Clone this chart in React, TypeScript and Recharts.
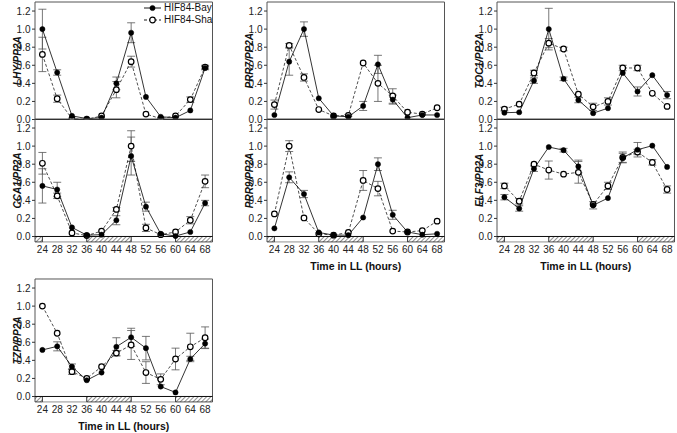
import React from "react";
import { LineChart, Line, XAxis, YAxis, ReferenceArea, ReferenceLine, ErrorBar, Legend } from "recharts";

const FONT = '"Liberation Sans", Arial, Helvetica, sans-serif';

const hours = [24, 28, 32, 36, 40, 44, 48, 52, 56, 60, 64, 68];
const yTicks = [0, 0.2, 0.4, 0.6, 0.8, 1.0, 1.2];
const seriesNames = ["HIF84-Bay", "HIF84-Sha"];
// light / dark bars under the x axis (hours)
const subjDay = [[24, 36], [48, 60]];
const subjNight = [[22, 24], [36, 48], [60, 70]];

const lhyBay = [1.0, 0.52, 0.04, 0.01, 0.02, 0.4, 0.96, 0.25, 0.03, 0.02, 0.1, 0.57];
const lhyBayErr = [0.22, 0.03, 0, 0, 0, 0.07, 0.11, 0, 0, 0, 0, 0.02];
const lhySha = [0.72, 0.23, 0.01, 0.0, 0.04, 0.33, 0.64, 0.06, 0.01, 0.04, 0.22, 0.58];
const lhyShaErr = [0.19, 0.04, 0, 0, 0, 0.09, 0.06, 0, 0, 0, 0.03, 0.02];

const cca1Bay = [0.56, 0.52, 0.1, 0.015, 0.02, 0.18, 0.89, 0.33, 0.03, 0.005, 0.05, 0.37];
const cca1BayErr = [0.19, 0.08, 0, 0, 0, 0.05, 0.21, 0.05, 0, 0, 0, 0.03];
const cca1Sha = [0.81, 0.45, 0.04, 0.01, 0.06, 0.3, 1.0, 0.095, 0.02, 0.05, 0.18, 0.61];
const cca1ShaErr = [0.12, 0.03, 0, 0, 0, 0.02, 0.17, 0.04, 0, 0, 0.04, 0.07];

const prr7Bay = [0.05, 0.64, 1.0, 0.235, 0.04, 0.03, 0.15, 0.61, 0.22, 0.02, 0.05, 0.05];
const prr7BayErr = [0, 0.15, 0.08, 0, 0, 0, 0.05, 0.1, 0.05, 0, 0, 0];
const prr7Sha = [0.165, 0.82, 0.465, 0.11, 0.04, 0.045, 0.625, 0.4, 0.26, 0.08, 0.06, 0.13];
const prr7ShaErr = [0.05, 0.02, 0.04, 0, 0, 0.01, 0, 0.2, 0.08, 0, 0, 0];

const prr9Bay = [0.09, 0.655, 0.47, 0.045, 0.015, 0.015, 0.21, 0.8, 0.24, 0.05, 0.02, 0.03];
const prr9BayErr = [0, 0.06, 0.04, 0, 0, 0, 0, 0.07, 0.05, 0, 0, 0];
const prr9Sha = [0.25, 1.0, 0.205, 0.03, 0.015, 0.045, 0.62, 0.53, 0.06, 0.05, 0.065, 0.17];
const prr9ShaErr = [0, 0.06, 0, 0, 0, 0, 0.11, 0.08, 0, 0, 0, 0];

const toc1Bay = [0.075, 0.08, 0.43, 1.0, 0.45, 0.215, 0.07, 0.125, 0.515, 0.31, 0.49, 0.27];
const toc1BayErr = [0, 0, 0.03, 0.23, 0.02, 0.03, 0, 0, 0, 0.05, 0, 0.04];
const toc1Sha = [0.115, 0.17, 0.515, 0.845, 0.78, 0.28, 0.14, 0.2, 0.57, 0.57, 0.29, 0.145];
const toc1ShaErr = [0.02, 0, 0.03, 0.05, 0.02, 0, 0.04, 0.04, 0.03, 0.03, 0, 0];

const elf3Bay = [0.435, 0.31, 0.75, 0.99, 0.955, 0.775, 0.345, 0.425, 0.87, 0.96, 1.005, 0.77];
const elf3BayErr = [0.03, 0.03, 0.03, 0, 0.02, 0.07, 0.04, 0, 0.05, 0.08, 0, 0];
const elf3Sha = [0.56, 0.39, 0.8, 0.735, 0.69, 0.71, 0.355, 0.56, 0.875, 0.935, 0.82, 0.52];
const elf3ShaErr = [0.03, 0.03, 0, 0.1, 0, 0.12, 0, 0.04, 0.06, 0.03, 0.03, 0.04];

const tzpBay = [0.515, 0.555, 0.33, 0.18, 0.265, 0.55, 0.655, 0.535, 0.11, 0.045, 0.415, 0.585];
const tzpBayErr = [0, 0.05, 0.03, 0, 0, 0.1, 0.1, 0.13, 0, 0, 0.03, 0.05];
const tzpSha = [1.0, 0.7, 0.275, 0.2, 0.33, 0.48, 0.57, 0.265, 0.19, 0.415, 0.55, 0.65];
const tzpShaErr = [0, 0, 0.03, 0, 0, 0.03, 0.16, 0.12, 0.06, 0.12, 0.15, 0.12];

// panel geometry (page px)
const BOX_LEFT = [35, 266.6, 497];
const BOX_TOP = [1.5, 119, 279];
const PLOT_W = 177.5;
const SPAN_H = 117.5; // value 0 .. 1.3
const BAR = 0.06; // light/dark bar depth in data units
const AXIS_W = 35;
const M_TOP = 3;
const M_RIGHT = 4;
const X_H = 30;

type PanelDef = {
  id: string;
  gene: string;
  col: number;
  row: number;
  bay: number[];
  bayErr: number[];
  sha: number[];
  shaErr: number[];
  labelX: number;
  labelY: number;
  title?: boolean;
  legend?: boolean;
};

function YLabel({ text, x, y }: { text: string; x: number; y: number }) {
  return (
    <text
      x={x}
      y={y}
      transform={`rotate(-90 ${x} ${y})`}
      textAnchor="middle"
      dominantBaseline="central"
      fontFamily={FONT}
      fontSize={10}
      fontWeight="bold"
      fontStyle="italic"
      fill="#111"
    >
      {text}
    </text>
  );
}

function LegendBox() {
  return (
    <div style={{ fontFamily: FONT, fontSize: 10, color: "#111", lineHeight: "12px" }}>
      {seriesNames.map((name, i) => (
        <div key={name} style={{ display: "flex", alignItems: "center", height: 12 }}>
          <svg width={19} height={10} style={{ marginRight: 2 }}>
            <line x1={1} y1={5} x2={18} y2={5} stroke="#000" strokeWidth={0.9} strokeDasharray={i ? "3 2" : undefined} />
            <circle cx={9.5} cy={5} r={i ? 2.8 : 2.6} fill={i ? "#fff" : "#000"} stroke="#000" strokeWidth={i ? 1.2 : 0.5} />
          </svg>
          <span>{name}</span>
        </div>
      ))}
    </div>
  );
}

function Panel(p: PanelDef) {
  const lower = p.row > 0;
  const plotH = lower ? (SPAN_H * (1.3 + BAR)) / 1.3 : SPAN_H;
  const mBottom = lower ? 3 : 7;
  const width = AXIS_W + PLOT_W + M_RIGHT;
  const height = M_TOP + plotH + (lower ? X_H : 0) + mBottom;
  const left = BOX_LEFT[p.col] - AXIS_W;
  const top = BOX_TOP[p.row] - M_TOP;
  const rows = hours.map((h, i) => ({ h, bay: p.bay[i], bayErr: p.bayErr[i], sha: p.sha[i], shaErr: p.shaErr[i] }));
  const tickStyle = { fontSize: 10, fill: "#222", fontFamily: FONT };
  return (
    <div style={{ position: "absolute", left, top }}>
      <LineChart width={width} height={height} data={rows} margin={{ top: M_TOP, right: M_RIGHT, left: 0, bottom: mBottom }}>
        <defs>
          <pattern id={`hatch-${p.id}`} width="3" height="3" patternUnits="userSpaceOnUse" patternTransform="rotate(45)">
            <rect width="3" height="3" fill="#fff" />
            <line x1="0" y1="0" x2="0" y2="3" stroke="#222" strokeWidth="1" />
          </pattern>
        </defs>
        <XAxis
          dataKey="h"
          type="number"
          domain={[22, 70]}
          allowDataOverflow
          ticks={hours}
          interval={0}
          hide={!lower}
          height={X_H}
          axisLine={false}
          tickLine={false}
          tickSize={0}
          tickMargin={4}
          tick={tickStyle}
          label={
            p.title
              ? { value: "Time in LL (hours)", position: "insideBottom", offset: 1.8, fontSize: 10.5, fontWeight: 700, fill: "#111", fontFamily: FONT }
              : undefined
          }
        />
        <YAxis
          type="number"
          domain={[lower ? -BAR : 0, 1.3]}
          allowDataOverflow
          ticks={yTicks}
          interval={0}
          width={AXIS_W}
          axisLine={false}
          tickSize={3}
          tickMargin={1.5}
          tickLine={{ stroke: "#333" }}
          tickFormatter={(v: number) => v.toFixed(1)}
          tick={tickStyle}
          label={<YLabel text={`${p.gene}/PP2A`} x={p.labelX - left} y={p.labelY - top} />}
        />
        <ReferenceArea x1={22} x2={70} y1={0} y2={1.3} fill="none" stroke="#555" strokeWidth={1} />
        {lower &&
          subjDay.map(([a, b]) => (
            <ReferenceArea key={`d${a}`} x1={a} x2={b} y1={-BAR} y2={0} fill="#fff" fillOpacity={1} stroke="#777" strokeWidth={0.8} />
          ))}
        {lower &&
          subjNight.map(([a, b]) => (
            <ReferenceArea
              key={`n${a}`}
              x1={a}
              x2={b}
              y1={-BAR}
              y2={0}
              fill={`url(#hatch-${p.id})`}
              fillOpacity={1}
              stroke="#222"
              strokeWidth={0.8}
            />
          ))}
        <ReferenceLine y={0} stroke="#111" strokeWidth={1} />
        <Line
          dataKey="sha"
          stroke="#222"
          strokeWidth={0.8}
          strokeDasharray="3 2"
          dot={{ r: 2.8, fill: "#fff", stroke: "#000", strokeWidth: 1.2, strokeDasharray: "" }}
          activeDot={false}
          isAnimationActive={false}
        >
          <ErrorBar dataKey="shaErr" width={4} stroke="#555" strokeWidth={0.8} />
        </Line>
        <Line
          dataKey="bay"
          stroke="#000"
          strokeWidth={0.8}
          dot={{ r: 2.6, fill: "#000", stroke: "#000", strokeWidth: 0.5 }}
          activeDot={false}
          isAnimationActive={false}
        >
          <ErrorBar dataKey="bayErr" width={4} stroke="#555" strokeWidth={0.8} />
        </Line>
        {p.legend && (
          <Legend
            layout="vertical"
            align="center"
            verticalAlign="middle"
            content={<LegendBox />}
            wrapperStyle={{ left: 143, top: 3, width: 75, height: 26 }}
          />
        )}
      </LineChart>
    </div>
  );
}

const panels: PanelDef[] = [
  { id: "lhy", gene: "LHY", col: 0, row: 0, bay: lhyBay, bayErr: lhyBayErr, sha: lhySha, shaErr: lhyShaErr, labelX: 16, labelY: 52, legend: true },
  { id: "prr7", gene: "PRR7", col: 1, row: 0, bay: prr7Bay, bayErr: prr7BayErr, sha: prr7Sha, shaErr: prr7ShaErr, labelX: 238, labelY: 58 },
  { id: "toc1", gene: "TOC1", col: 2, row: 0, bay: toc1Bay, bayErr: toc1BayErr, sha: toc1Sha, shaErr: toc1ShaErr, labelX: 470, labelY: 55 },
  { id: "cca1", gene: "CCA1", col: 0, row: 1, bay: cca1Bay, bayErr: cca1BayErr, sha: cca1Sha, shaErr: cca1ShaErr, labelX: 13, labelY: 179 },
  { id: "prr9", gene: "PRR9", col: 1, row: 1, bay: prr9Bay, bayErr: prr9BayErr, sha: prr9Sha, shaErr: prr9ShaErr, labelX: 238, labelY: 179, title: true },
  { id: "elf3", gene: "ELF3", col: 2, row: 1, bay: elf3Bay, bayErr: elf3BayErr, sha: elf3Sha, shaErr: elf3ShaErr, labelX: 470, labelY: 179, title: true },
  { id: "tzp", gene: "TZP", col: 0, row: 2, bay: tzpBay, bayErr: tzpBayErr, sha: tzpSha, shaErr: tzpShaErr, labelX: 10, labelY: 338, title: true },
];

export default function App() {
  return (
    <div style={{ position: "absolute", left: 0, top: 0, width: 677, height: 433, overflow: "hidden", background: "#fff", fontFamily: FONT }}>
      {panels.map((p) => (
        <Panel key={p.id} {...p} />
      ))}
    </div>
  );
}
